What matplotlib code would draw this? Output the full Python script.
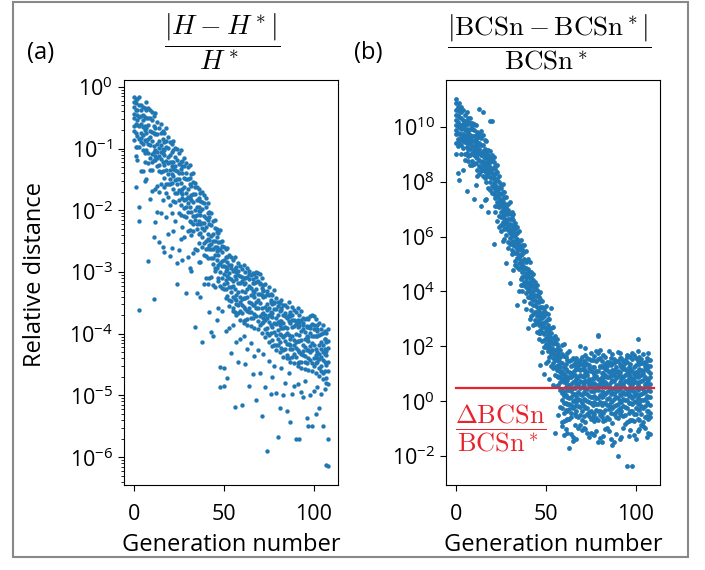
import matplotlib
matplotlib.use("Agg")
import matplotlib.pyplot as plt
import numpy as np
from matplotlib.patches import Rectangle

# ---------------- data: log10(relative distance), one list per generation ----------------
a_log10 = [
 [-0.17,-0.33,-0.5,-0.63,-0.72,-0.86,-0.24,-0.44],
 [-0.2,-0.38,-0.27,-0.6,-0.75,-0.97,-1.12,-1.62],
 [-0.38,-0.2,-0.53,-0.62,-0.8,-0.97,-1.18,-0.45],
 [-0.3,-0.16,-0.49,-0.63,-0.85,-0.98,-1.94,-3.61,-2.17],
 [-0.37,-0.48,-0.29,-0.74,-0.89,-0.83,-1.36,-0.6],
 [-0.33,-0.54,-0.65,-0.78,-0.93,-1.02,-1.36,-0.45],
 [-0.34,-0.49,-0.7,-0.63,-0.86,-1.07,-1.22,-1.52],
 [-0.51,-0.38,-0.67,-0.88,-0.74,-1.02,-1.5,-0.24],
 [-0.35,-0.51,-0.62,-0.84,-0.93,-1.07,-1.23,-2.82],
 [-0.37,-0.51,-0.71,-0.82,-0.94,-1.15,-1.34,-1.82],
 [-0.54,-0.4,-0.73,-0.87,-1.09,-1.22,-1.34,-1.69],
 [-0.47,-0.63,-0.74,-0.96,-1.05,-1.19,-2.43,-3.43],
 [-0.66,-0.77,-0.42,-1.03,-1.18,-1.12,-1.65,-2.19],
 [-0.57,-0.76,-0.93,-1.06,-1.15,-1.29,-1.6,-2.03],
 [-0.67,-0.88,-0.99,-1.12,-1.27,-1.36,-1.7,-2.52],
 [-0.6,-0.74,-0.94,-1.05,-1.17,-1.38,-1.57,-2.05],
 [-0.85,-0.72,-1.01,-1.22,-1.08,-1.36,-1.84,-2.6],
 [-0.74,-0.89,-1.1,-1.03,-1.26,-1.47,-1.62,-2.67],
 [-0.67,-0.98,-0.87,-1.2,-1.35,-1.57,-1.72,-2.11],
 [-0.99,-0.81,-1.14,-1.23,-1.41,-1.58,-1.79,-2.38],
 [-0.89,-1.1,-1.21,-1.34,-1.49,-1.58,-1.92,-2.74],
 [-1.05,-0.92,-1.21,-1.42,-1.28,-1.56,-2.04,-2.61],
 [-0.88,-1.02,-1.22,-1.33,-1.45,-1.66,-1.85,-2.33],
 [-0.99,-1.14,-1.35,-1.28,-1.51,-1.72,-1.87,-2.17],
 [-1.0,-1.19,-1.36,-1.49,-1.58,-1.72,-2.85,-3.19],
 [-1.25,-1.07,-1.4,-1.49,-1.67,-1.84,-2.05,-2.64],
 [-1.02,-1.33,-1.22,-1.55,-1.7,-1.92,-2.07,-2.46],
 [-1.28,-1.39,-1.2,-1.65,-1.8,-1.74,-2.27,-2.81],
 [-1.29,-1.15,-1.48,-1.62,-1.84,-1.97,-2.09,-2.44],
 [-1.23,-1.39,-1.5,-1.72,-1.81,-1.95,-2.11,-3.34],
 [-1.3,-1.49,-1.66,-1.79,-1.88,-2.02,-2.33,-2.76],
 [-1.27,-1.58,-1.47,-1.8,-1.95,-2.17,-2.32,-2.93],
 [-1.6,-1.42,-1.75,-1.84,-2.02,-2.19,-2.4,-2.99],
 [-1.54,-1.4,-1.73,-1.87,-2.09,-2.22,-2.34,-2.69],
 [-1.63,-1.74,-1.55,-2.0,-2.15,-2.09,-2.62,-3.89],
 [-1.62,-1.83,-1.94,-2.07,-2.22,-2.31,-2.65,-3.34],
 [-1.65,-1.8,-2.01,-1.94,-2.17,-2.38,-2.53,-2.83],
 [-1.85,-1.72,-2.01,-2.22,-2.08,-2.36,-2.84,-3.41],
 [-1.71,-1.87,-1.98,-2.2,-2.29,-2.43,-2.59,-4.13],
 [-1.75,-1.89,-2.09,-2.2,-2.32,-2.53,-2.72,-3.2],
 [-1.94,-1.8,-2.13,-2.27,-2.49,-2.62,-2.74,-3.09],
 [-1.89,-2.05,-2.16,-2.38,-2.47,-2.61,-2.77,-3.2],
 [-2.11,-2.22,-2.03,-2.48,-2.63,-2.57,-3.1,-3.64],
 [-2.05,-2.24,-2.41,-2.54,-2.63,-2.77,-3.08,-3.97],
 [-2.18,-2.39,-2.5,-2.63,-2.78,-2.87,-3.21,-4.03],
 [-2.15,-2.29,-2.49,-2.6,-2.72,-2.93,-2.98,-3.25],
 [-2.43,-2.3,-2.59,-2.8,-2.66,-2.94,-2.35,-3.77],
 [-2.36,-2.51,-2.72,-2.65,-2.88,-3.09,-3.15,-3.59],
 [-2.32,-2.63,-2.52,-2.85,-3.0,-3.22,-4.54,-4.86],
 [-2.67,-2.49,-2.82,-2.91,-3.09,-3.26,-2.58,-3.63],
 [-2.59,-2.8,-2.91,-3.04,-3.19,-3.28,-4.55,-4.85],
 [-2.76,-2.63,-2.92,-3.13,-2.99,-3.27,-3.42,-3.95],
 [-2.61,-2.75,-2.95,-3.06,-3.18,-3.39,-2.84,-4.71],
 [-2.73,-2.88,-3.09,-3.02,-3.25,-3.46,-3.55,-3.91],
 [-2.75,-2.94,-3.11,-3.24,-3.33,-3.47,-2.88,-4.31],
 [-2.99,-2.81,-3.14,-3.23,-3.41,-3.58,-3.63,-3.85],
 [-2.75,-3.06,-2.95,-3.28,-3.43,-3.65,-2.97,-5.18],
 [-3.0,-3.11,-2.92,-3.37,-3.52,-3.46,-3.7,-4.13],
 [-2.99,-2.85,-3.18,-3.32,-3.54,-3.67,-3.05,-4.46],
 [-2.91,-3.07,-3.18,-3.4,-3.49,-3.63,-3.78,-4.09],
 [-2.95,-3.14,-3.31,-3.44,-3.53,-3.67,-3.08,-5.15],
 [-2.89,-3.2,-3.09,-3.42,-3.57,-3.79,-3.83,-4.03],
 [-3.18,-3.0,-3.33,-3.42,-3.6,-3.77,-3.1,-4.49],
 [-3.08,-2.94,-3.27,-3.41,-3.63,-3.76,-3.86,-4.25],
 [-3.12,-3.23,-3.04,-3.49,-3.64,-3.58,-2.98,-4.85],
 [-3.05,-3.26,-3.37,-3.5,-3.65,-3.74,-3.88,-4.15],
 [-3.02,-3.17,-3.38,-3.31,-3.54,-3.75,-3.12,-4.65],
 [-3.17,-3.04,-3.33,-3.54,-3.4,-3.68,-3.9,-4.36],
 [-3.0,-3.16,-3.27,-3.49,-3.58,-3.72,-3.08,-5.08],
 [-3.01,-3.15,-3.35,-3.46,-3.58,-3.79,-3.92,-4.26],
 [-3.17,-3.03,-3.36,-3.5,-3.72,-3.85,-3.2,-4.64],
 [-3.1,-3.26,-3.37,-3.59,-3.68,-3.82,-3.98,-5.33],
 [-3.29,-3.4,-3.21,-3.66,-3.81,-3.75,-3.3,-4.32],
 [-3.2,-3.39,-3.56,-3.69,-3.78,-3.92,-4.06,-4.86],
 [-3.3,-3.51,-3.62,-3.75,-3.9,-3.99,-3.36,-5.9],
 [-3.24,-3.38,-3.58,-3.69,-3.81,-4.02,-4.13,-4.44],
 [-3.48,-3.35,-3.64,-3.85,-3.71,-3.99,-3.45,-4.97],
 [-3.37,-3.52,-3.73,-3.66,-3.89,-4.1,-4.2,-4.7],
 [-3.29,-3.6,-3.49,-3.82,-3.97,-4.19,-3.5,-4.53],
 [-3.6,-3.42,-3.75,-3.84,-4.02,-4.19,-4.26,-4.96],
 [-3.49,-3.7,-3.81,-3.94,-4.09,-4.18,-3.55,-5.68],
 [-3.63,-3.5,-3.79,-4.0,-3.86,-4.14,-4.3,-5.2],
 [-3.45,-3.59,-3.79,-3.9,-4.02,-4.23,-3.62,-4.55],
 [-3.54,-3.69,-3.9,-3.83,-4.06,-4.27,-4.37,-5.0],
 [-3.53,-3.72,-3.89,-4.02,-4.11,-4.25,-3.66,-4.79],
 [-3.75,-3.57,-3.9,-3.99,-4.17,-4.34,-4.4,-5.25],
 [-3.49,-3.8,-3.69,-4.02,-4.17,-4.39,-3.72,-4.63],
 [-3.72,-3.83,-3.64,-4.09,-4.24,-4.18,-4.45,-5.43],
 [-3.7,-3.56,-3.89,-4.03,-4.25,-4.38,-3.77,-4.97],
 [-3.61,-3.77,-3.88,-4.1,-4.19,-4.33,-4.48,-4.84],
 [-3.65,-3.84,-4.01,-4.14,-4.23,-4.37,-3.8,-5.7],
 [-3.58,-3.89,-3.78,-4.11,-4.26,-4.48,-4.52,-4.82],
 [-3.87,-3.69,-4.02,-4.11,-4.29,-4.46,-3.83,-5.7],
 [-3.77,-3.63,-3.96,-4.1,-4.32,-4.45,-4.55,-4.94],
 [-3.82,-3.93,-3.74,-4.19,-4.34,-4.28,-3.85,-5.02],
 [-3.76,-3.97,-4.08,-4.21,-4.36,-4.45,-4.57,-4.76],
 [-3.74,-3.89,-4.1,-4.03,-4.26,-4.47,-3.88,-5.37],
 [-3.89,-3.76,-4.05,-4.26,-4.12,-4.4,-4.58,-5.5],
 [-3.71,-3.87,-3.98,-4.2,-4.29,-4.43,-3.9,-4.99],
 [-3.7,-3.84,-4.04,-4.15,-4.27,-4.48,-4.6,-5.5],
 [-3.85,-3.71,-4.04,-4.18,-4.4,-4.53,-3.93,-4.92],
 [-3.76,-3.92,-4.03,-4.25,-4.34,-4.48,-4.63,-5.3],
 [-3.93,-4.04,-3.85,-4.3,-4.45,-4.39,-3.96,-4.86],
 [-3.83,-4.02,-4.19,-4.32,-4.41,-4.55,-4.68,-5.2],
 [-3.92,-4.13,-4.24,-4.37,-4.52,-4.61,-4.0,-4.97],
 [-3.85,-3.99,-4.19,-4.3,-4.42,-4.63,-4.74,-5.5],
 [-4.09,-3.96,-4.25,-4.46,-4.32,-4.6,-4.08,-4.9],
 [-3.99,-4.14,-4.35,-4.28,-4.51,-4.72,-4.8,-6.12],
 [-3.92,-4.23,-4.12,-4.45,-4.6,-4.82,-5.71,-6.15],
]

b_log10 = [
 [10.85,10.62,10.42,10.24,10.06,9.89,9.72,9.4,11.02,9.0],
 [10.73,10.61,10.41,10.16,10.04,9.76,9.56,9.28,8.33],
 [10.88,10.62,10.36,10.08,9.99,9.74,9.52,9.4,8.05],
 [10.52,10.71,10.3,10.08,9.93,9.74,9.58,9.35,9.0],
 [10.61,10.25,10.1,9.98,9.75,9.64,9.47,9.22,8.42],
 [10.41,10.21,10.05,9.88,9.6,9.67,9.45,9.02,8.8],
 [10.54,10.15,9.93,9.75,9.58,9.42,9.25,9.04,7.67],
 [10.18,10.31,10.09,9.82,9.65,9.47,9.2,8.92,8.75],
 [10.14,10.33,9.92,9.7,9.55,9.36,9.2,8.97,8.62],
 [10.02,10.15,9.93,9.66,9.49,9.31,9.04,8.76,8.59],
 [10.1,9.87,9.67,9.49,9.31,9.14,8.97,8.65,7.38],
 [10.05,9.69,9.54,9.42,9.19,9.08,8.91,8.66,7.86],
 [9.82,9.62,9.46,9.29,9.01,9.08,8.86,8.43,8.21],
 [9.74,9.62,9.42,9.17,9.05,8.77,8.57,8.29,10.65],
 [9.85,9.59,9.33,9.05,8.96,8.71,8.49,8.37,7.1],
 [9.71,9.32,9.1,8.92,8.75,8.59,8.42,8.21,10.55],
 [9.53,9.17,9.02,8.9,8.67,8.56,8.39,8.14,7.34],
 [9.48,9.09,8.87,8.69,8.52,8.36,8.19,7.98,7.37],
 [9.16,8.96,8.8,8.63,8.35,8.42,8.2,7.77,6.9],
 [9.13,8.9,8.7,8.52,8.34,8.17,8.0,7.68,10.22],
 [8.83,8.96,8.74,8.47,8.3,8.12,7.85,7.57,10.22],
 [8.72,8.91,8.5,8.28,8.13,7.94,7.78,7.55,5.74],
 [8.58,8.46,8.26,8.01,7.89,7.61,7.41,7.13,6.9],
 [8.6,8.34,8.08,7.8,7.71,7.46,7.24,7.12,6.55],
 [8.2,7.97,7.77,7.59,7.41,7.24,7.07,6.75,6.35],
 [7.88,7.76,7.56,7.31,7.19,6.91,6.71,6.43,6.2],
 [7.9,7.64,7.38,7.1,7.01,6.76,6.54,6.42,5.85],
 [7.44,7.63,7.22,7.0,6.85,6.66,6.5,6.27,5.92],
 [7.45,7.09,6.94,6.82,6.59,6.48,6.31,6.06,5.05],
 [7.18,6.98,6.82,6.65,6.37,6.44,6.22,5.79,5.57],
 [7.24,6.85,6.63,6.45,6.28,6.12,5.95,5.74,4.31],
 [6.78,6.91,6.69,6.42,6.25,6.07,5.8,5.52,5.35],
 [6.62,6.81,6.4,6.18,6.03,5.84,5.68,5.45,4.77],
 [6.38,6.51,6.29,6.02,5.85,5.67,5.4,5.12,4.95],
 [6.35,6.12,5.92,5.74,5.56,5.39,5.22,4.9,3.52],
 [6.19,5.83,5.68,5.56,5.33,5.22,5.05,4.8,4.0],
 [5.86,5.66,5.5,5.33,5.05,5.12,4.9,4.47,4.25],
 [5.68,5.56,5.36,5.11,4.99,4.71,4.51,4.23,4.0],
 [5.7,5.44,5.18,4.9,4.81,4.56,4.34,4.22,3.65],
 [5.46,5.07,4.85,4.67,4.5,4.34,4.17,3.96,3.35],
 [5.19,4.83,4.68,4.56,4.33,4.22,4.05,3.8,2.67],
 [5.09,4.7,4.48,4.3,4.13,3.97,3.8,3.59,2.98],
 [4.72,4.52,4.36,4.19,3.91,3.98,3.76,3.33,3.11],
 [4.64,4.41,4.21,4.03,3.85,3.68,3.51,3.19,2.79],
 [4.23,4.36,4.14,3.87,3.7,3.52,3.25,2.97,2.8],
 [4.04,4.23,3.82,3.6,3.45,3.26,3.1,2.87,2.52],
 [3.93,3.81,3.61,3.36,3.24,2.96,2.76,2.48,2.25],
 [3.97,3.71,3.45,3.17,3.08,2.83,2.61,2.49,1.31],
 [3.65,3.42,3.22,3.04,2.86,2.69,2.52,2.2,1.8],
 [3.41,3.29,3.09,2.84,2.72,2.44,2.24,1.96,1.0],
 [3.46,3.2,2.94,2.66,2.57,2.32,2.1,1.98,1.41],
 [3.0,3.19,2.78,2.56,2.41,2.22,2.06,1.83,1.48],
 [2.99,2.63,2.48,2.36,2.13,2.02,1.85,1.6,0.8],
 [2.68,2.48,2.32,2.15,1.87,1.94,1.72,1.29,3.38],
 [2.7,2.31,2.09,1.91,1.74,1.58,1.41,1.2,0.59],
 [2.23,2.36,2.14,1.87,1.7,1.52,1.25,0.97,-1.15],
 [2.08,2.27,1.86,1.64,1.49,1.3,1.14,0.91,0.56],
 [1.86,1.99,1.77,1.5,1.33,1.15,0.88,0.6,-0.5],
 [1.85,1.62,1.42,1.24,1.06,0.89,0.72,0.4,-0.2],
 [1.71,1.41,1.12,0.98,0.76,0.45,0.3,0.03,-0.25,-0.77,-0.91,2.05],
 [1.66,1.24,1.01,0.84,0.69,0.35,0.19,-0.05,-0.44,-0.72,-1.24,2.1],
 [1.62,1.35,1.18,0.93,0.71,0.52,0.24,-0.07,-0.33,-0.69,-1.02],
 [1.75,1.52,1.1,0.79,0.6,0.4,0.14,-0.09,-0.35,-0.66,-1.15],
 [1.83,1.45,1.08,0.9,0.59,0.42,0.12,-0.11,-0.29,-0.63,-1.72],
 [1.49,1.27,1.04,0.87,0.62,0.38,0.16,-0.14,-0.41,-0.58,-1.19],
 [1.58,1.33,1.06,0.95,0.72,0.47,0.26,0.0,-0.23,-1.3,-1.45],
 [1.53,1.38,1.15,0.96,0.74,0.49,0.27,0.06,-0.19,-0.48,-0.85],
 [1.56,1.31,1.22,0.81,0.67,0.57,0.21,-0.02,-0.37,-0.52,-1.36],
 [1.44,1.29,1.16,0.89,0.64,0.55,0.33,0.09,-0.16,-0.56,-0.97],
 [1.52,1.37,1.13,0.97,0.75,0.5,0.28,0.05,-0.2,-0.49,-0.86,2.0],
 [1.63,1.34,1.19,0.92,0.7,0.53,0.23,-0.06,-0.34,-0.7,-1.03],
 [1.45,1.28,1.17,0.88,0.65,0.54,0.34,0.08,-0.17,-0.55,-0.96],
 [1.7,1.42,1.11,0.99,0.75,0.46,0.29,0.04,-0.26,-0.76,-1.0,1.93],
 [1.57,1.34,1.07,0.94,0.73,0.46,0.25,0.01,-0.24,-0.46,-1.16],
 [1.55,1.32,1.21,0.82,0.66,0.58,0.2,-0.01,-0.38,-0.53,-1.3],
 [1.76,1.51,1.11,0.78,0.61,0.39,0.15,-0.08,-0.36,-0.65,-1.14],
 [1.5,1.26,1.05,0.86,0.63,0.37,0.17,-0.13,-0.42,-0.59,-1.18],
 [1.65,1.25,1.0,0.85,0.68,0.36,0.18,-0.04,-0.45,-0.71,-1.23],
 [1.82,1.46,1.09,0.91,0.58,0.43,0.11,-0.1,-0.3,-0.62,-1.07],
 [2.42,2.36,1.74,1.53,1.09,0.8,0.59,0.41,0.13,-0.1,-0.34,-0.67,-1.5],
 [1.85,1.57,1.3,1.23,0.8,0.68,0.56,0.22,-0.03,-0.36,-0.51,-1.32],
 [1.48,1.28,1.03,0.88,0.61,0.39,0.15,-0.15,-0.4,-0.57,-1.5],
 [1.67,1.23,1.02,0.83,0.7,0.34,0.2,-0.06,-0.43,-0.73,-1.25],
 [1.61,1.36,1.17,0.94,0.72,0.51,0.25,-0.08,-0.32,-0.68,-1.01],
 [1.43,1.3,1.15,0.9,0.63,0.56,0.32,0.1,-0.15,-0.57,-0.98],
 [1.84,1.44,1.07,0.89,0.6,0.41,0.13,-0.12,-0.28,-0.64,-1.09],
 [1.59,1.32,1.05,0.96,0.71,0.48,0.27,-0.01,-0.22,-0.44,-1.38],
 [1.72,1.4,1.13,0.97,0.77,0.44,0.31,0.02,-0.24,-0.78,-1.6],
 [1.54,1.39,1.14,0.95,0.73,0.48,0.26,0.07,-0.18,-0.47,-1.5],
 [1.47,1.26,1.05,0.86,0.61,0.37,0.15,-0.13,-0.4,-0.59,-1.2],
 [1.81,1.46,1.09,0.91,0.58,0.41,0.11,-0.1,-0.3,-0.62,-1.98],
 [1.75,1.57,1.34,1.07,0.94,0.71,0.46,0.25,0.01,-0.24,-0.46,-1.36],
 [1.57,1.3,1.23,0.8,0.66,0.56,0.22,-0.03,-0.36,-0.51,-1.3],
 [1.45,1.28,1.17,0.88,0.63,0.54,0.34,0.08,-0.17,-0.55,-0.96],
 [1.52,1.39,1.16,0.95,0.75,0.48,0.26,0.05,-0.2,-0.49,-0.84],
 [1.6,1.7,1.42,1.11,0.99,0.75,0.46,0.29,0.04,-0.26,-0.76,-2.36],
 [1.65,1.25,1.02,0.83,0.68,0.36,0.18,-0.06,-0.43,-0.71,-1.25],
 [1.63,1.34,1.19,0.92,0.7,0.53,0.23,-0.06,-0.34,-0.7,-1.03],
 [1.74,1.53,1.09,0.8,0.59,0.41,0.13,-0.1,-0.34,-0.67,-2.36],
 [1.67,1.23,1.0,0.85,0.7,0.34,0.2,-0.04,-0.45,-0.73,-1.23],
 [1.58,1.33,1.06,0.95,0.72,0.47,0.26,0.0,-0.23,-0.45,-1.37],
 [2.25,1.83,1.45,1.08,0.9,0.59,0.42,0.12,-0.11,-0.29,-0.63,-1.08],
 [1.62,1.35,1.18,0.93,0.71,0.52,0.24,-0.07,-0.33,-0.69,-1.02],
 [1.53,1.38,1.15,0.96,0.74,0.49,0.27,0.06,-0.19,-0.48,-0.85],
 [1.71,1.41,1.12,0.98,0.76,0.45,0.3,0.03,-0.25,-0.77,-0.91],
 [1.44,1.29,1.16,0.89,0.64,0.55,0.33,0.09,-0.16,-0.56,-0.97],
 [1.56,1.31,1.22,0.81,0.67,0.57,0.21,-0.02,-0.37,-0.52,-1.31],
 [1.75,1.52,1.1,0.79,0.6,0.4,0.14,-0.09,-0.35,-0.66,-1.15],
 [1.49,1.27,1.04,0.87,0.62,0.38,0.16,-0.14,-0.41,-0.58,-1.19],
]

threshold_log10 = 0.5          # red line level: Delta BCSn / BCSn*
threshold_span = [0, 110]      # generation range of the red line
x_ticks = [0, 50, 100]
a_yticks_log10 = [0, -1, -2, -3, -4, -5, -6]
b_yticks_log10 = [10, 8, 6, 4, 2, 0, -2]

title_a = r'$\dfrac{|H - H^*|}{H^*}$'
title_b = r'$\dfrac{|\mathrm{BCSn} - \mathrm{BCSn}^*|}{\mathrm{BCSn}^*}$'
thr_label = r'$\dfrac{\Delta\mathrm{BCSn}}{\mathrm{BCSn}^*}$'

# ---------------- plotting ----------------
plt.rcParams['font.family'] = ['Open Sans', 'DejaVu Sans']
BLUE = '#1f77b4'
RED = '#e8232c'


def flatten(rows):
    xs, ys = [], []
    for g, row in enumerate(rows):
        for v in row:
            xs.append(g)
            ys.append(10.0 ** v)
    return np.array(xs), np.array(ys)


fig = plt.figure(figsize=(7.05, 5.70), dpi=100)
ax_a = fig.add_axes([0.1759, 0.1491, 0.3035, 0.7105])
ax_b = fig.add_axes([0.6326, 0.1491, 0.3035, 0.7105])

xa, ya = flatten(a_log10)
ax_a.scatter(xa, ya, s=10, color=BLUE, linewidths=0)
xb, yb = flatten(b_log10)
ax_b.scatter(xb, yb, s=12, color=BLUE, linewidths=0)

for ax in (ax_a, ax_b):
    ax.set_yscale('log')
    ax.set_xlim(-5.4, 113.4)
    ax.set_xticks(x_ticks)
    ax.tick_params(labelsize=15.5)
    ax.tick_params(axis='both', which='major', length=4.5)
    ax.tick_params(axis='x', pad=9)
    ax.set_xlabel('Generation number', fontsize=17)
    ax.xaxis.set_label_coords(0.5, -0.118)

ax_a.set_yticks([10.0 ** v for v in a_yticks_log10])
ax_b.set_yticks([10.0 ** v for v in b_yticks_log10])
ax_a.set_ylim(10 ** -6.45, 10 ** 0.11)
ax_b.set_ylim(10 ** -3.05, 10 ** 11.70)
ax_b.minorticks_off()
ax_a.set_ylabel('Relative distance', fontsize=17)
ax_a.yaxis.set_label_coords(-0.36, 0.52)

ax_b.plot(threshold_span, [10 ** threshold_log10] * 2, color=RED, lw=1.6, zorder=3)
ax_b.text(24.6, 10 ** -0.98, thr_label, color=RED, fontsize=19,
          ha='center', va='center', math_fontfamily='cm')

ax_a.text(0.46, 1.094, title_a, transform=ax_a.transAxes, fontsize=20,
          ha='center', va='center', math_fontfamily='cm')
ax_b.text(0.484, 1.094, title_b, transform=ax_b.transAxes, fontsize=19.5,
          ha='center', va='center', math_fontfamily='cm')

fig.text(40.5 / 705, 1 - 53 / 570, '(a)', fontsize=17, ha='center', va='center')
fig.text(368 / 705, 1 - 53 / 570, '(b)', fontsize=17, ha='center', va='center')

fig.patches.append(Rectangle((13 / 705, 13 / 570), 675 / 705, 555 / 570,
                             transform=fig.transFigure, fill=False,
                             edgecolor='#888888', lw=1.5))

fig.savefig('out.png', dpi=100)
